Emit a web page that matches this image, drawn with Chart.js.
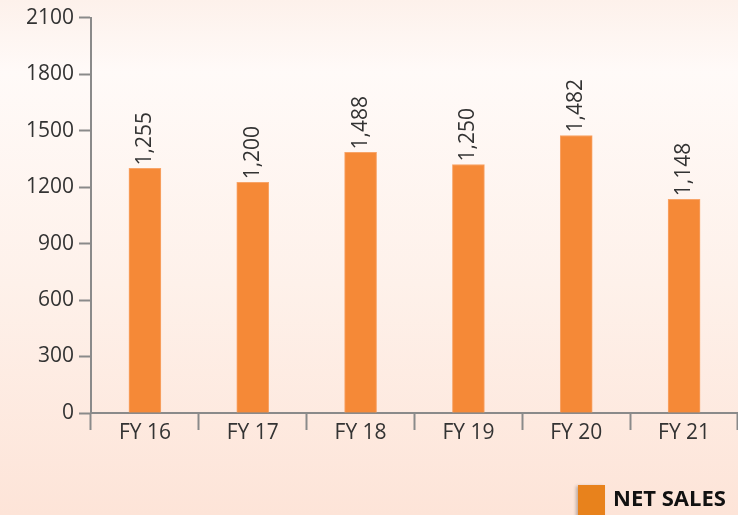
<!DOCTYPE html>
<html>
<head>
<meta charset="utf-8">
<script src="https://cdn.jsdelivr.net/npm/chart.js@4"></script>
<style>
  html, body { margin: 0; padding: 0; }
  body {
    width: 738px; height: 515px; overflow: hidden; position: relative;
    background: linear-gradient(to bottom, #fdf1eb 0%, #fffaf8 14%, #fef1ea 55%, #fde4d8 100%);
    font-family: "Open Sans", sans-serif;
  }
  #myChart { position: absolute; left: 0; top: 0; }
  #legend { position: absolute; left: 578px; top: 485px; }
  #legend .box {
    position: absolute; left: 0; top: 0; width: 27px; height: 32px;
    background: #e8821c; box-shadow: -2px 1px 3px rgba(0,0,0,0.25);
  }
  #legend .txt {
    position: absolute; left: 35px; top: -3px; white-space: nowrap;
    font-weight: bold; font-size: 22px; color: #111;
  }
</style>
</head>
<body>
<canvas id="myChart" width="738" height="515"></canvas>
<div id="legend"><div class="box"></div><div class="txt">NET SALES</div></div>
<script>
// données
var categories = ['FY 16', 'FY 17', 'FY 18', 'FY 19', 'FY 20', 'FY 21'];
var barValues = [1299, 1225, 1384, 1320, 1474, 1135];      // hauteur des barres
var labelValues = [1255, 1200, 1488, 1250, 1482, 1148];    // étiquettes affichées
var yTicks = [0, 300, 600, 900, 1200, 1500, 1800, 2100];

// étiquettes verticales au-dessus des barres
const barLabels = {
    id: 'barLabels',
    afterDatasetsDraw(chart) {
        const ctx = chart.ctx;
        const meta = chart.getDatasetMeta(0);
        ctx.save();
        ctx.font = '21px "Open Sans"';
        ctx.fillStyle = '#333';
        ctx.textAlign = 'left';
        ctx.textBaseline = 'middle';
        meta.data.forEach(function (bar, i) {
            ctx.save();
            ctx.translate(bar.x, bar.y - 3);
            ctx.rotate(-Math.PI / 2);
            ctx.fillText(labelValues[i].toLocaleString('en-US'), 0, 0);
            ctx.restore();
        });
        ctx.restore();
    }
};

var ctx = document.getElementById('myChart').getContext('2d');
var myChart = new Chart(ctx, {
    type: 'bar',
    data: {
        labels: categories,
        datasets: [{
            label: 'NET SALES',
            data: barValues,
            backgroundColor: '#f58937',
            borderColor: '#f8a468',
            borderWidth: 1,
            borderSkipped: 'bottom',
            barThickness: 32
        }]
    },
    options: {
        responsive: false,
        animation: false,
        layout: { padding: { top: 17, left: 0, right: 0, bottom: 0 } },
        plugins: {
            legend: { display: false },
            tooltip: { enabled: false }
        },
        scales: {
            x: {
                offset: true,
                grid: {
                    offset: true,
                    drawOnChartArea: false,
                    tickLength: 17,
                    tickWidth: 2,
                    tickColor: '#8a8a8a'
                },
                border: { color: '#8a8a8a', width: 2 },
                ticks: {
                    color: '#333',
                    font: { family: 'Open Sans', size: 21 },
                    padding: -10,
                    maxRotation: 0
                },
                afterFit: function (scale) { scale.height = 102; }
            },
            y: {
                min: 0,
                max: 2100,
                afterBuildTicks: function (scale) {
                    scale.ticks = yTicks.map(function (v) { return { value: v }; });
                },
                grid: {
                    drawOnChartArea: false,
                    tickLength: 12,
                    tickWidth: 2,
                    tickColor: '#8a8a8a'
                },
                border: { color: '#8a8a8a', width: 2 },
                ticks: {
                    color: '#333',
                    font: { family: 'Open Sans', size: 21 },
                    padding: 5,
                    callback: function (v) { return String(v); }
                },
                afterFit: function (scale) { scale.width = 91; }
            }
        }
    },
    plugins: [barLabels]
});
</script>
</body>
</html>
